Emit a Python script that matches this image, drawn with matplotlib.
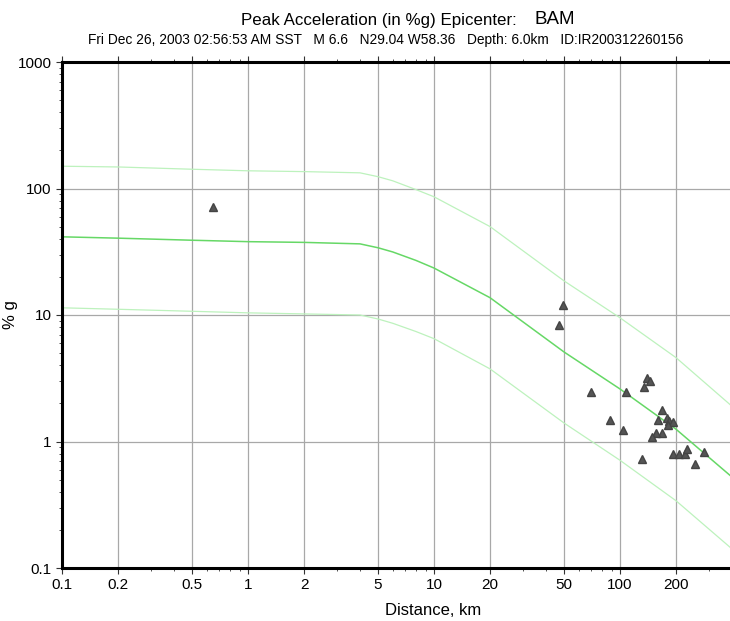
import matplotlib
matplotlib.use("Agg")
import matplotlib.pyplot as plt
from matplotlib.ticker import FixedLocator, NullFormatter, LogLocator

plt.rcParams['font.family'] = ['Liberation Sans', 'DejaVu Sans']

# --- attenuation curves ---
curve_dist = [0.1, 0.2, 0.5, 1, 2, 4, 5, 6, 8, 10, 20, 50, 100, 200, 390]
median_pga = [41.5, 40.5, 39, 38, 37.5, 36.5, 34, 31.5, 27, 23.5, 13.7, 5.1, 2.6, 1.25, 0.54]
upper_pga = [150, 148, 142, 138, 136, 133, 124, 115, 98, 86, 50, 18.6, 9.5, 4.6, 1.96]
lower_pga = [11.4, 11.1, 10.7, 10.4, 10.2, 10.0, 9.3, 8.6, 7.4, 6.5, 3.75, 1.4, 0.71, 0.34, 0.146]

# --- station observations ---
station_dist = [0.65, 49.4, 47, 70, 107, 139, 145, 135, 168, 159, 178, 184, 192, 181,
                88, 104, 169, 156, 149, 132, 192, 208, 224, 229, 252, 281]
station_pga = [72, 11.9, 8.3, 2.47, 2.47, 3.15, 3.03, 2.71, 1.76, 1.49, 1.54, 1.45, 1.42, 1.35,
               1.49, 1.23, 1.16, 1.16, 1.08, 0.73, 0.80, 0.80, 0.80, 0.88, 0.67, 0.83]

xticks = [0.1, 0.2, 0.5, 1, 2, 5, 10, 20, 50, 100, 200]
xticklabels = ['0.1', '0.2', '0.5', '1', '2', '5', '10', '20', '50', '100', '200']
yticks = [0.1, 1, 10, 100, 1000]
yticklabels = ['0.1', '1', '10', '100', '1000']

fig = plt.figure(figsize=(7.3, 6.21), dpi=100)
ax = fig.add_axes([62 / 730, 1 - 568 / 621, 1 - 62 / 730, 506 / 621])
ax.set_xscale('log')
ax.set_yscale('log')
ax.set_xlim(0.1, 390)
ax.set_ylim(0.1, 1000)

ax.plot(curve_dist, upper_pga, color='#bdf2bd', lw=0.9)
ax.plot(curve_dist, lower_pga, color='#bdf2bd', lw=0.9)
ax.plot(curve_dist, median_pga, color='#66d866', lw=1.1)
ax.plot(station_dist, station_pga, linestyle='none', marker='^', ms=6,
        color='#555555', markeredgecolor='#444444', zorder=5)

ax.xaxis.set_major_locator(FixedLocator(xticks))
ax.set_xticklabels(xticklabels)
ax.xaxis.set_minor_locator(LogLocator(base=10, subs=(3, 4, 6, 7, 8, 9)))
ax.xaxis.set_minor_formatter(NullFormatter())
ax.yaxis.set_major_locator(FixedLocator(yticks))
ax.set_yticklabels(yticklabels)
ax.yaxis.set_minor_locator(LogLocator(base=10, subs=range(2, 10)))
ax.yaxis.set_minor_formatter(NullFormatter())

ax.grid(True, which='major', color='#a8a8a8', lw=0.9)
ax.set_axisbelow(True)
ax.tick_params(which='major', direction='out', length=4, width=0.8, labelsize=11,
               top=True, colors='#333333', labelcolor='black')
ax.tick_params(which='minor', direction='out', length=2, width=0.6, top=True, colors='#333333')

for side in ('left', 'top', 'bottom'):
    ax.spines[side].set_linewidth(2.2)
    ax.spines[side].set_color('black')
ax.spines['right'].set_visible(False)

ax.set_xlabel('Distance, km', fontsize=12)
ax.xaxis.set_label_coords((433 - 62) / 668, -0.07)
ax.set_ylabel('% g', fontsize=12)
ax.yaxis.set_label_coords((18 - 62) / 668, 0.5)

fig.text(517 / 730, 1 - 20 / 621, 'Peak Acceleration (in %g) Epicenter:', ha='right', va='center',
         fontsize=12.2)
fig.text(535 / 730, 1 - 19 / 621, 'BAM', ha='left', va='center', fontsize=13.5)
fig.text(386 / 730, 1 - 40 / 621,
         'Fri Dec 26, 2003 02:56:53 AM SST   M 6.6   N29.04 W58.36   Depth: 6.0km   ID:IR200312260156',
         ha='center', va='center', fontsize=9.9)

fig.savefig('out.png', dpi=100)
